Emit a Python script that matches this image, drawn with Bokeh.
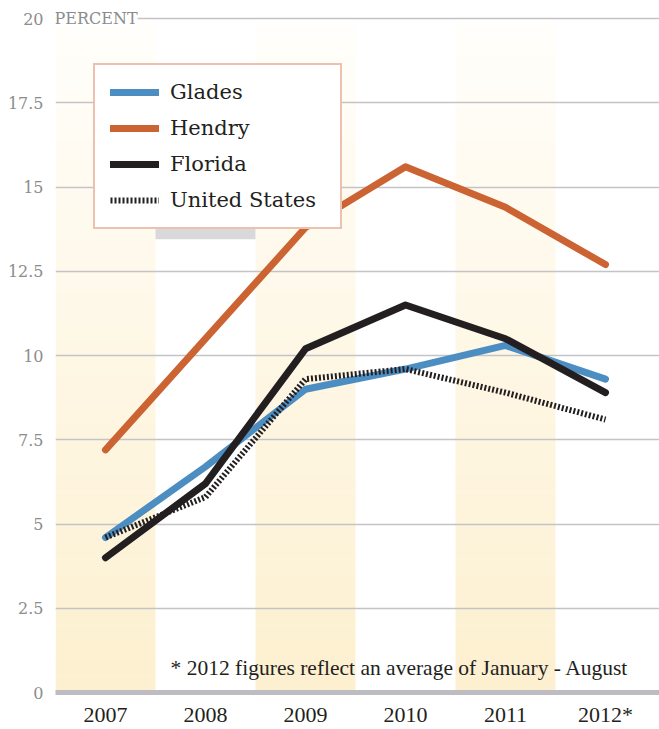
from bokeh.plotting import figure
from bokeh.models import (ColumnDataSource, FixedTicker, Legend, LegendItem, Label,
                          BoxAnnotation, Range1d)
from bokeh.embed import file_html
from bokeh.resources import INLINE

# ---- data ----
years = [2007, 2008, 2009, 2010, 2011, 2012]
year_labels = ["2007", "2008", "2009", "2010", "2011", "2012*"]
glades = [4.6, 6.7, 9.0, 9.6, 10.3, 9.3]
hendry = [7.2, 10.5, 13.8, 15.6, 14.4, 12.7]
florida = [4.0, 6.2, 10.2, 11.5, 10.5, 8.9]
united_states = [4.6, 5.8, 9.3, 9.6, 8.9, 8.1]
y_ticks = [0, 2.5, 5, 7.5, 10, 12.5, 15, 17.5, 20]
band_years = [2007, 2009, 2011]
footnote = "* 2012 figures reflect an average of January - August"

SERIF_W = "DejaVu Serif"
SERIF_N = "Liberation Serif"

p = figure(width=659, height=729, output_backend="svg", toolbar_location=None,
           x_range=Range1d(2006.5, 2012.54), y_range=Range1d(0, 20.3),
           min_border_left=55, min_border_right=0, min_border_top=8, min_border_bottom=0,
           outline_line_color=None, background_fill_color="white")

# ---- background bands with vertical gradient (stacked strips) ----
n = 40
top_band = 19.85
c0 = (253, 240, 208)   # bottom colour
c1 = (255, 254, 250)   # top colour
lefts, rights, bottoms, tops, colors = [], [], [], [], []
for by in band_years:
    for i in range(n):
        t = i / (n - 1)
        col = tuple(int(round(c0[k] + (c1[k] - c0[k]) * t)) for k in range(3))
        lefts.append(by - 0.5)
        rights.append(by + 0.5)
        bottoms.append(top_band * i / n)
        tops.append(top_band * (i + 1) / n + 0.01)
        colors.append("#%02x%02x%02x" % col)
p.quad(left=lefts, right=rights, bottom=bottoms, top=tops, fill_color=colors,
       line_color=None, level="underlay")

# ---- axes / grid ----
p.xgrid.grid_line_color = None
p.ygrid.ticker = FixedTicker(ticks=y_ticks)
p.ygrid.grid_line_color = "#c4c4c6"
p.ygrid.grid_line_width = 1.5

p.yaxis.ticker = FixedTicker(ticks=y_ticks)
p.yaxis.major_label_overrides = {t: f"{t:g}" for t in y_ticks}
p.yaxis.axis_line_color = None
p.yaxis.major_tick_line_color = None
p.yaxis.minor_tick_line_color = None
p.yaxis.major_label_text_font = SERIF_W
p.yaxis.major_label_text_font_size = "16px"
p.yaxis.major_label_text_color = "#8c8c8c"
p.yaxis.major_label_standoff = 6

p.xaxis.ticker = FixedTicker(ticks=years)
p.xaxis.major_label_overrides = {y: l for y, l in zip(years, year_labels)}
p.xaxis.axis_line_color = "#bdbdc1"
p.xaxis.axis_line_width = 5
p.xaxis.major_tick_line_color = None
p.xaxis.minor_tick_line_color = None
p.xaxis.major_label_text_font = SERIF_N
p.xaxis.major_label_text_font_size = "22px"
p.xaxis.major_label_text_color = "#231f20"
p.xaxis.major_label_standoff = 3

# ---- lines ----
src = ColumnDataSource(dict(x=years, glades=glades, hendry=hendry,
                            florida=florida, us=united_states))
r_g = p.line("x", "glades", source=src, line_color="#4d8ec2", line_width=7,
             line_cap="round", line_join="round")
r_h = p.line("x", "hendry", source=src, line_color="#cb6432", line_width=7,
             line_cap="round", line_join="round")
r_us = p.line("x", "us", source=src, line_color="#231f20", line_width=6,
              line_dash="2 2", line_join="miter")
r_f = p.line("x", "florida", source=src, line_color="#231f20", line_width=7,
             line_cap="round", line_join="round")

# ---- decorations ----
p.add_layout(Label(x=2006.5, y=20, text="PERCENT", text_font=SERIF_W,
                   text_font_size="16px", text_color="#8c8c8c", text_baseline="middle",
                   text_align="left", x_offset=-1, background_fill_color="white"))

p.add_layout(BoxAnnotation(left=2007.5, right=2008.5, bottom=13.45, top=13.8,
                           fill_color="#d9d9db", fill_alpha=1, line_color=None))

legend = Legend(items=[LegendItem(label="Glades", renderers=[r_g]),
                       LegendItem(label="Hendry", renderers=[r_h]),
                       LegendItem(label="Florida", renderers=[r_f]),
                       LegendItem(label="United States", renderers=[r_us])],
                location=(38, 463), margin=0, padding=15, spacing=12,
                glyph_width=49, glyph_height=20, label_standoff=11, label_width=155,
                label_text_font=SERIF_W, label_text_font_size="21px",
                label_text_color="#231f20", border_line_color="#d9845c",
                border_line_width=2, background_fill_color="white",
                background_fill_alpha=1)
p.add_layout(legend)

p.add_layout(Label(x=2012.23, y=0.74, text=footnote, text_font=SERIF_N,
                   text_font_size="21.5px", text_color="#231f20",
                   text_align="right", text_baseline="middle"))

open("out.html", "w").write(file_html(p, INLINE))
